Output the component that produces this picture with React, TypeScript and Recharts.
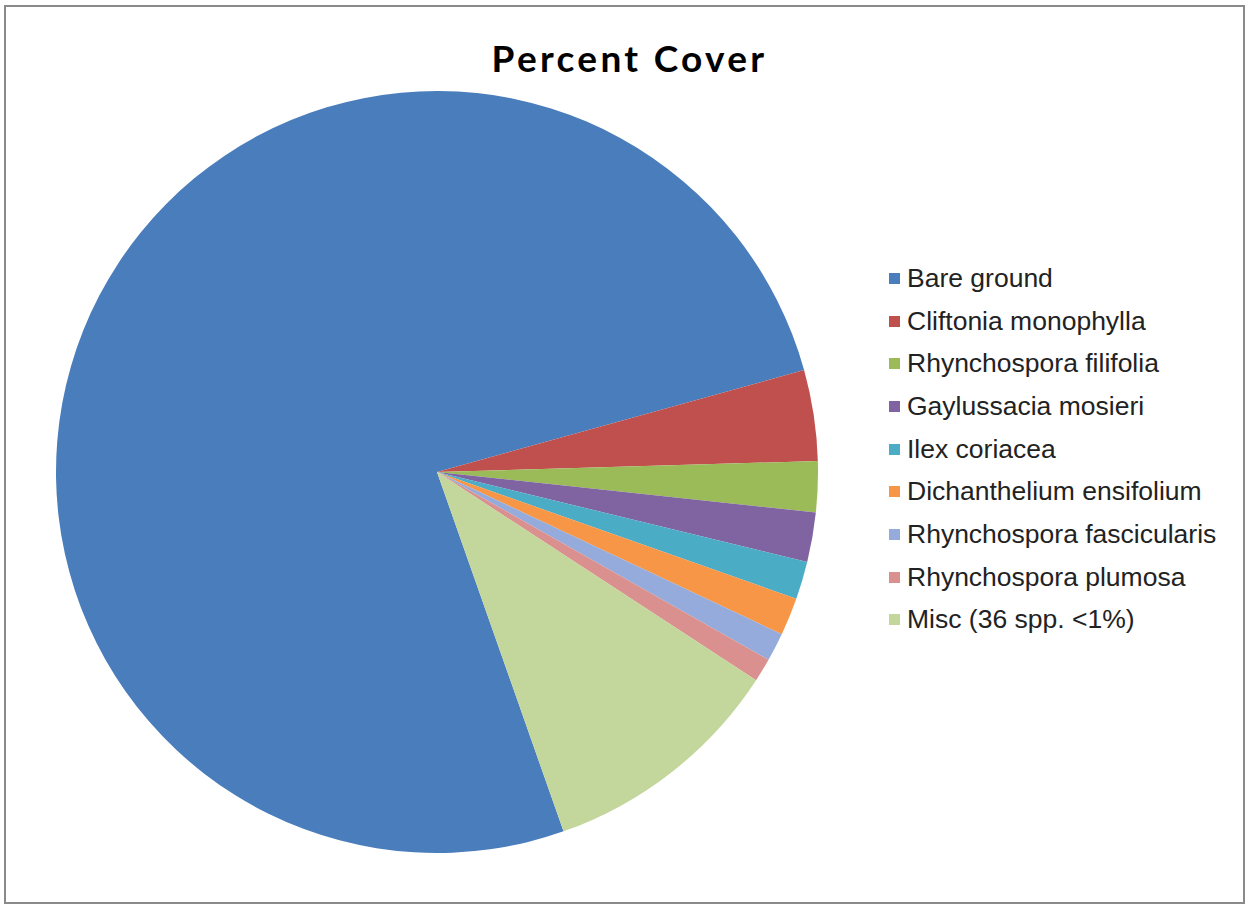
import { PieChart, Pie, Cell, Legend } from 'recharts';

const species = [
  'Bare ground',
  'Cliftonia monophylla',
  'Rhynchospora filifolia',
  'Gaylussacia mosieri',
  'Ilex coriacea',
  'Dichanthelium ensifolium',
  'Rhynchospora fascicularis',
  'Rhynchospora plumosa',
  'Misc (36 spp. <1%)',
];

const cover = [76.0, 3.85, 2.15, 2.1, 1.6, 1.6, 1.2, 1.0, 10.4];

const colors = [
  '#4A7DBB',
  '#C0504D',
  '#9BBB59',
  '#8064A2',
  '#4BACC6',
  '#F79646',
  '#94ABDB',
  '#DA908E',
  '#C3D69B',
];

const data = species.map((name, i) => ({ name, value: cover[i] }));

const LegendList = () => (
  <div style={{ fontFamily: '"Liberation Sans", Arial, sans-serif', fontSize: 26.5, color: '#222' }}>
    {species.map((name, i) => (
      <div key={name} style={{ display: 'flex', alignItems: 'center', height: 42.7 }}>
        <span style={{ width: 11, height: 11, background: colors[i], marginRight: 7, display: 'inline-block' }} />
        <span style={{ whiteSpace: 'nowrap' }}>{name}</span>
      </div>
    ))}
  </div>
);

export default function App() {
  return (
    <div style={{ position: 'absolute', left: 0, top: 0, width: 1253, height: 909, background: '#fff' }}>
      <div
        style={{
          position: 'absolute',
          left: 4,
          top: 5,
          width: 1241,
          height: 899,
          border: '2px solid #8a8a8a',
          boxSizing: 'border-box',
        }}
      />
      <div
        style={{
          position: 'absolute',
          left: 2,
          top: 35,
          width: 1255,
          textAlign: 'center',
          fontFamily: 'Lato, "Open Sans", sans-serif',
          fontWeight: 700,
          fontSize: 37,
          letterSpacing: 3.3,
          color: '#000',
        }}
      >
        Percent Cover
      </div>
      <PieChart width={1253} height={909} margin={{ top: 0, right: 0, bottom: 0, left: 0 }}>
        <Pie
          data={data}
          dataKey="value"
          nameKey="name"
          cx={437}
          cy={472}
          outerRadius={381}
          startAngle={-70.6}
          endAngle={-430.6}
          stroke="none"
          isAnimationActive={false}
        >
          {data.map((entry, index) => (
            <Cell key={`cell-${index}`} fill={colors[index]} />
          ))}
        </Pie>
        <Legend
          layout="vertical"
          content={() => <LegendList />}
          wrapperStyle={{ position: 'absolute', left: 889, top: 257, width: 345 }}
        />
      </PieChart>
    </div>
  );
}
